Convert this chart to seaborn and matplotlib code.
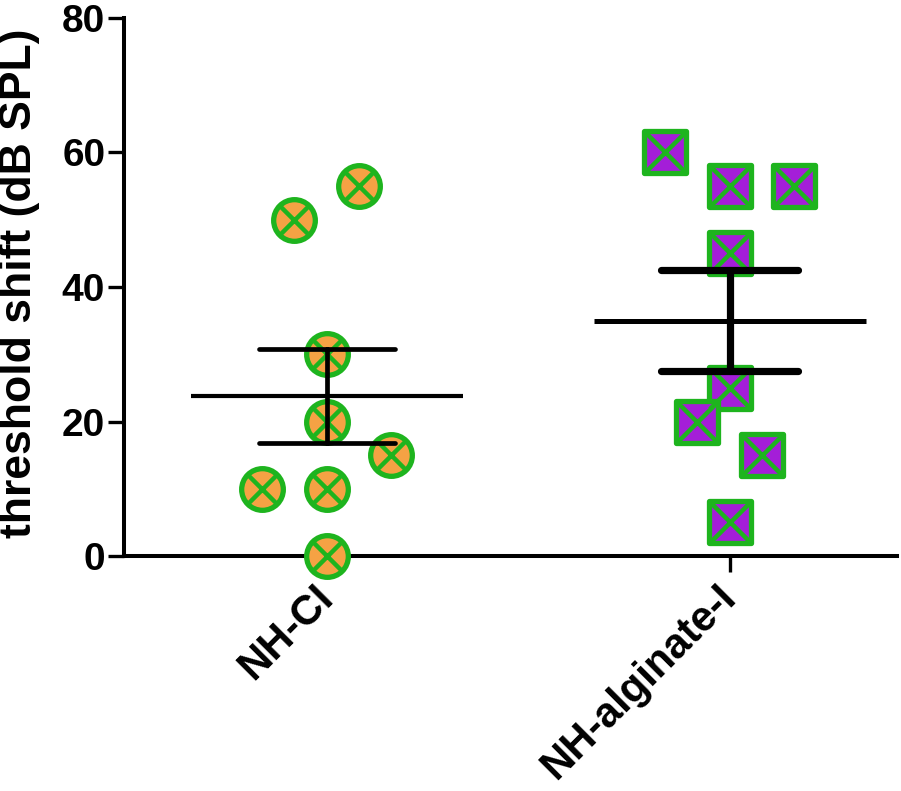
import numpy as np
import pandas as pd
import matplotlib
matplotlib.use("Agg")
import matplotlib.pyplot as plt
import seaborn as sns

# ---- data ----
groups = ["NH-CI", "NH-alginate-I"]
ci_values = [50, 55, 30, 20, 15, 10, 10, 0]
ci_jitter = [-0.082, 0.079, 0.0, 0.0, 0.159, -0.161, 0.0, 0.0]
alg_values = [60, 55, 55, 45, 25, 20, 15, 5]
alg_jitter = [-0.161, 0.0, 0.159, 0.0, 0.0, -0.082, 0.079, 0.0]
y_ticks = [0, 20, 40, 60, 80]
y_label = "threshold shift (dB SPL)"

sns.set_style("ticks")
plt.rcParams["font.family"] = ["Liberation Sans", "DejaVu Sans"]
plt.rcParams["font.weight"] = "bold"
plt.rcParams["text.color"] = "black"
plt.rcParams["axes.labelcolor"] = "black"
plt.rcParams["xtick.color"] = "black"
plt.rcParams["ytick.color"] = "black"

green = "#1EB41E"
orange = "#F5A244"
purple = "#A41ED8"

df = pd.DataFrame({
    "group": [groups[0]] * len(ci_values) + [groups[1]] * len(alg_values),
    "gidx": [0.0] * len(ci_values) + [1.0] * len(alg_values),
    "value": ci_values + alg_values,
    "jit": ci_jitter + alg_jitter,
})
df["xpos"] = df["gidx"] + df["jit"]

fig = plt.figure(figsize=(9.01, 7.91), dpi=100)
ax = fig.add_axes([124 / 901, 1 - 556 / 791, (897 - 124) / 901, (556 - 18) / 791])

markers = {groups[0]: "o", groups[1]: "s"}
fills = {groups[0]: orange, groups[1]: purple}
xsizes = {groups[0]: 450, groups[1]: 880}
err_lw = {groups[0]: 3.4, groups[1]: 5.2}
mean_lw = {groups[0]: 3.0, groups[1]: 3.6}

for g in groups:
    sub = df[df["group"] == g]
    sns.scatterplot(data=sub, x="xpos", y="value", marker=markers[g], s=900,
                    color=fills[g], edgecolor=green, linewidth=3.8,
                    clip_on=False, zorder=3, ax=ax, legend=False)
    sns.scatterplot(data=sub, x="xpos", y="value", marker="x", s=xsizes[g],
                    color=green, linewidth=3.2,
                    clip_on=False, zorder=3.5, ax=ax, legend=False)

for g in groups:
    sub = df[df["group"] == g]
    sns.pointplot(data=sub, x="gidx", y="value", native_scale=True,
                  errorbar="se", capsize=0.34, linestyle="none",
                  marker="_", markersize=196, markeredgewidth=mean_lw[g],
                  color="black", zorder=5,
                  err_kws={"linewidth": err_lw[g], "solid_capstyle": "round",
                           "zorder": 5},
                  ax=ax)

ax.set_xlim(-0.504, 1.415)
ax.set_ylim(0, 80)
ax.set_yticks(y_ticks)
ax.set_yticklabels([str(t) for t in y_ticks], fontsize=28, fontweight="bold",
                   color="black")
ax.set_xticks([0, 1])
ax.set_xticklabels(groups, fontsize=30, fontweight="bold", rotation=45,
                   ha="right", va="center", rotation_mode="anchor",
                   color="black")
ax.set_xlabel("")
ax.set_ylabel(y_label, fontsize=32, fontweight="bold", color="black")
ax.yaxis.set_label_coords((40 - 124) / 773, 0.507)

for side in ["top", "right"]:
    ax.spines[side].set_visible(False)
for side in ["left", "bottom"]:
    ax.spines[side].set_linewidth(2.9)
    ax.spines[side].set_color("black")
ax.tick_params(axis="both", length=11.5, width=2.4, color="black", pad=2)
ax.tick_params(axis="x", pad=14)

fig.savefig("out.png", dpi=100)
